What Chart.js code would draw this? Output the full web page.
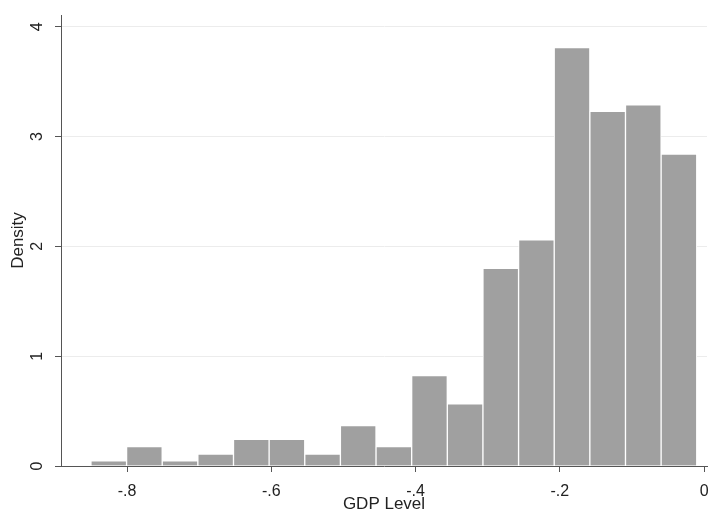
<!DOCTYPE html>
<html>
<head>
<meta charset="utf-8">
<script src="https://cdn.jsdelivr.net/npm/chart.js@4"></script>
<style>
  body { margin: 0; background: #fff; }
</style>
</head>
<body>
<canvas id="histChart" width="710" height="516"></canvas>
<script>
  // bin centres (GDP level) and density
  const binCenters = [-0.8253, -0.7759, -0.7265, -0.6771, -0.6277, -0.5783, -0.5289, -0.4795, -0.4301,
                      -0.3807, -0.3313, -0.2819, -0.2325, -0.1831, -0.1337, -0.0843, -0.0349];
  const densities = [0.046, 0.176, 0.046, 0.109, 0.243, 0.243, 0.109, 0.368, 0.176,
                     0.823, 0.567, 1.80, 2.06, 3.81, 3.23, 3.29, 2.84];

  const xTicks = [-0.8, -0.6, -0.4, -0.2, 0];
  const xTickLabels = ['-.8', '-.6', '-.4', '-.2', '0'];
  const yTicks = [0, 1, 2, 3, 4];
  const yTickLabels = ['0', '1', '2', '3', '4'];

  const axisColor = '#555';
  const textColor = '#222';
  const tickFont = { family: "'Liberation Sans', Arial, sans-serif", size: 16 };
  const titleFont = { family: "'Liberation Sans', Arial, sans-serif", size: 17 };

  const ctx = document.getElementById('histChart').getContext('2d');
  new Chart(ctx, {
    type: 'bar',
    data: {
      datasets: [{
        label: 'Density',
        data: binCenters.map((x, i) => ({ x: x, y: densities[i] })),
        backgroundColor: '#a0a0a0',
        borderColor: '#ffffff',
        borderWidth: 1,
        barPercentage: 1,
        categoryPercentage: 1
      }]
    },
    options: {
      responsive: false,
      animation: false,
      layout: {
        padding: { top: 15, right: 3, left: 0, bottom: 0 }
      },
      plugins: {
        legend: { display: false },
        tooltip: { enabled: false }
      },
      scales: {
        x: {
          type: 'linear',
          min: -0.8915,
          max: 0.004,
          offset: false,
          afterBuildTicks: scale => { scale.ticks = xTicks.map(v => ({ value: v })); },
          afterFit: scale => {
            scale.height = 50;
            scale.paddingLeft = 0;
            scale.paddingRight = 0;
          },
          ticks: {
            color: textColor,
            font: tickFont,
            padding: 10,
            maxRotation: 0,
            callback: (value, index) => xTickLabels[index]
          },
          grid: {
            offset: false,
            drawOnChartArea: false,
            tickLength: 6,
            tickColor: axisColor
          },
          border: { color: axisColor, width: 1 },
          title: {
            display: true,
            text: 'GDP Level',
            color: textColor,
            font: titleFont,
            padding: { top: 0, bottom: 1 }
          }
        },
        y: {
          min: 0,
          max: 4.107,
          afterBuildTicks: scale => { scale.ticks = yTicks.map(v => ({ value: v })); },
          afterFit: scale => {
            scale.width = 61;
            scale.paddingTop = 0;
            scale.paddingBottom = 0;
          },
          ticks: {
            color: textColor,
            font: tickFont,
            padding: 13,
            minRotation: 90,
            maxRotation: 90,
            crossAlign: 'center',
            callback: (value, index) => yTickLabels[index]
          },
          grid: {
            color: c => (c.tick && c.tick.value === 0) ? 'rgba(0,0,0,0)' : '#ececec',
            tickLength: 6,
            tickColor: axisColor
          },
          border: { color: axisColor, width: 1 },
          title: {
            display: true,
            text: 'Density',
            color: textColor,
            font: titleFont,
            padding: { top: 8, bottom: 0 }
          }
        }
      }
    }
  });
</script>
</body>
</html>
